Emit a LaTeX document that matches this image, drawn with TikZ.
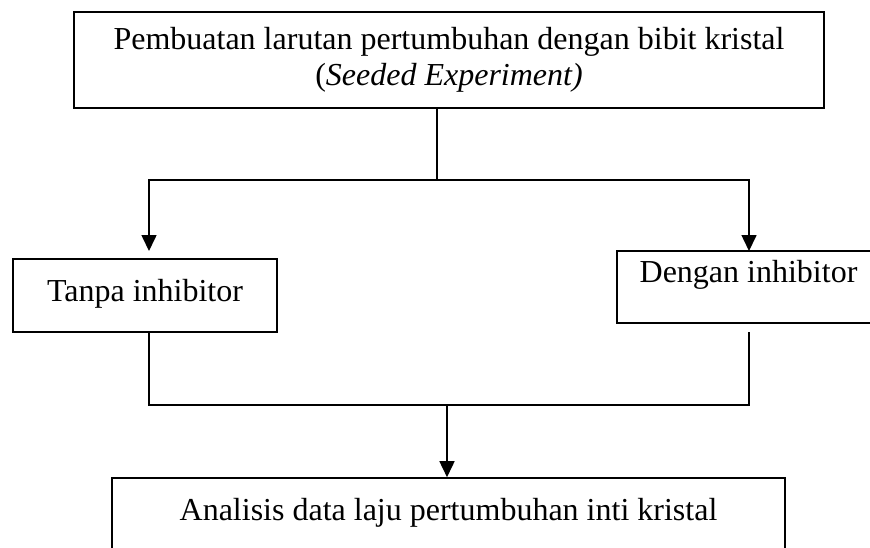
\documentclass[tikz,border=0pt]{standalone}
\usepackage{fontspec}
\setmainfont{Liberation Serif}
\usepackage{tikz}
\usetikzlibrary{arrows.meta}

\begin{document}
\begin{tikzpicture}[x=0.5pt,y=-0.5pt,
  flowbox/.style={draw,line width=0.8pt,inner sep=0pt,align=center,font=\fontsize{16}{18}\selectfont},
  flowline/.style={line width=0.6pt},
  flowarrow/.style={line width=0.8pt,-{Triangle[length=8pt,width=7.5pt]}}]
\useasboundingbox (0,0) rectangle (870,547);
\clip (0,0) rectangle (870,547);
\node[flowbox,minimum width=375pt,minimum height=48pt] (seeded) at (449,60) {Pembuatan larutan pertumbuhan dengan bibit kristal\\(\textit{Seeded Experiment)}};
\node[flowbox,minimum width=132pt,text height=21pt,text depth=15.5pt] (tanpa) at (145,295.5) {Tanpa inhibitor};
\node[flowbox,minimum width=131.5pt,text height=15.5pt,text depth=20.5pt] (dengan) at (748.5,287) {Dengan inhibitor};
\node[flowbox,minimum width=336.5pt,text height=21pt,text depth=27.5pt] (analisis) at (448.5,526.5) {Analisis data laju pertumbuhan inti kristal};
\coordinate (split) at (437,180);
\coordinate (inL) at (149,251);
\coordinate (inR) at (749,251);
\coordinate (outR) at (749,332);
\coordinate (merge) at (447,405);
\draw[flowline] (seeded.south -| split) -- (split);
\draw[flowarrow] (split) -| (inL);
\draw[flowarrow] (split) -| (inR);
\draw[flowline] (inL |- tanpa.south) |- (merge);
\draw[flowline] (outR) |- (merge);
\draw[flowarrow] (merge) -- (analisis.north -| merge);
\end{tikzpicture}
\end{document}
